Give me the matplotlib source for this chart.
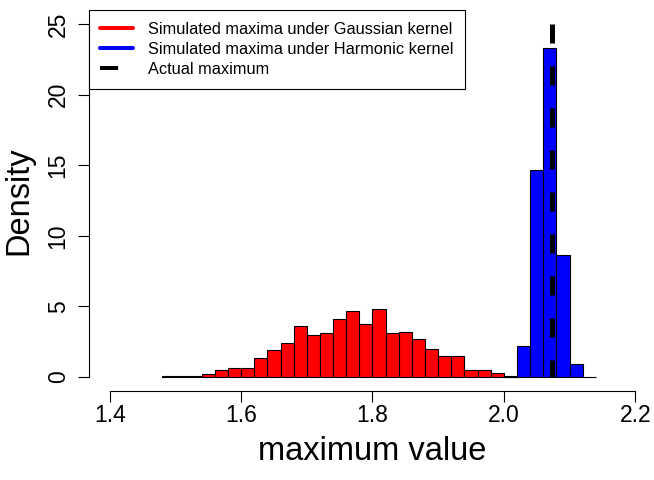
import numpy as np
import matplotlib.pyplot as plt
from matplotlib.lines import Line2D

# ---------- Data ----------
gauss_breaks = [1.48, 1.50, 1.52, 1.54, 1.56, 1.58, 1.60, 1.62, 1.64, 1.66,
                1.68, 1.70, 1.72, 1.74, 1.76, 1.78, 1.80, 1.82, 1.84, 1.86,
                1.88, 1.90, 1.92, 1.94, 1.96, 1.98, 2.00, 2.02]
gauss_density = [0.05, 0.05, 0.05, 0.2, 0.45, 0.65, 0.65, 1.35, 1.91, 2.36,
                 3.61, 2.97, 3.12, 4.13, 4.65, 3.73, 4.79, 3.07, 3.19, 2.67,
                 1.98, 1.44, 1.44, 0.47, 0.47, 0.26, 0.07]

harm_breaks = [2.00, 2.02, 2.04, 2.06, 2.08, 2.10, 2.12, 2.14]
harm_density = [0.0, 2.15, 14.7, 23.3, 8.64, 0.92, 0.0]

actual_max = 2.074

x_ticks = [1.4, 1.6, 1.8, 2.0, 2.2]
x_labels = ['1.4', '1.6', '1.8', '2.0', '2.2']
y_ticks = [0, 5, 10, 15, 20, 25]

legend_labels = ['Simulated maxima under Gaussian kernel',
                 'Simulated maxima under Harmonic kernel',
                 'Actual maximum']

# ---------- Figure ----------
plt.rcParams['font.family'] = ['Liberation Sans', 'DejaVu Sans']

fig = plt.figure(figsize=(6.54, 4.8), dpi=100)
ax = fig.add_axes([0.1356, 0.1858, 0.8679, 0.7929])


def draw_hist(breaks, dens, color):
    edges = np.array(breaks)
    ax.bar(edges[:-1], dens, width=np.diff(edges), align='edge',
           color=color, edgecolor='black', linewidth=0.8)


draw_hist(gauss_breaks, gauss_density, 'red')
draw_hist(harm_breaks, harm_density, 'blue')

ax.plot([actual_max, actual_max], [25, 0], color='black', lw=3.6,
        dashes=(3.8, 4.6), dash_capstyle='butt')

# ---------- Axes (R style) ----------
ax.set_xlim(1.368, 2.232)
ax.set_ylim(-1, 26)
for s in ['top', 'right']:
    ax.spines[s].set_visible(False)
ax.spines['left'].set_bounds(0, 25)
ax.spines['bottom'].set_bounds(1.4, 2.2)
for s in ['left', 'bottom']:
    ax.spines[s].set_linewidth(0.8)

ax.set_xticks(x_ticks)
ax.set_xticklabels(x_labels)
ax.set_yticks(y_ticks)
ax.tick_params(axis='both', direction='out', length=7.7, width=0.8,
               labelsize=16.5, colors='black')
ax.tick_params(axis='x', pad=1.7)
ax.tick_params(axis='y', pad=6, labelrotation=90)
for lab in ax.get_yticklabels():
    lab.set_va('center')

ax.set_xlabel('maximum value', fontsize=23.5)
ax.set_ylabel('Density', fontsize=23.5)
ax.xaxis.set_label_coords(0.5, -0.119)
ax.yaxis.set_label_coords(-0.096, 0.5)

# ---------- Legend ----------
handles = [
    Line2D([], [], color='red', lw=2.9, solid_capstyle='round'),
    Line2D([], [], color='blue', lw=2.9, solid_capstyle='round'),
    Line2D([], [], color='black', lw=2.9, dashes=(4.5, 8)),
]
leg = ax.legend(handles, legend_labels, loc='upper left',
                bbox_to_anchor=(0, 1), borderaxespad=0, fontsize=11.8,
                fancybox=False, framealpha=1, edgecolor='black',
                handlelength=2.0, handletextpad=0.9, borderpad=0.7,
                labelspacing=0.32)
leg.get_frame().set_linewidth(0.8)

plt.savefig('out.png', dpi=100)
